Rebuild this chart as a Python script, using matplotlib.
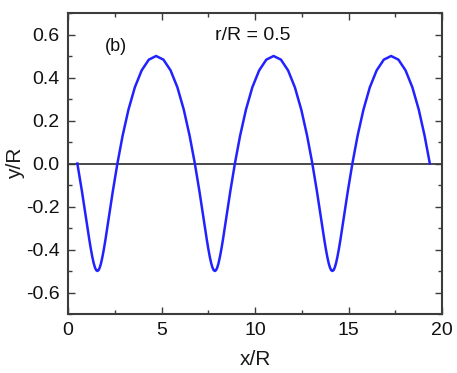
import matplotlib
matplotlib.use('Agg')
import matplotlib.pyplot as plt
from matplotlib.ticker import MultipleLocator

# curve points (trochoid, r/R = 0.5)
x_vals = [0.500, 0.745, 0.957, 1.139, 1.221, 1.297, 1.369, 1.438, 1.505, 1.571,
          1.636, 1.703, 1.772, 1.844, 1.921, 2.003,
          2.185, 2.397, 2.642, 2.920, 3.232, 3.573, 3.939, 4.321, 4.712, 5.104,
          5.486, 5.851, 6.193, 6.504, 6.783,
          7.028, 7.240, 7.422, 7.504, 7.580, 7.652, 7.721, 7.788, 7.854, 7.919,
          7.986, 8.055, 8.127, 8.204, 8.286, 8.468,
          8.680, 8.925, 9.203, 9.515, 9.856, 10.222, 10.604, 10.995, 11.387, 11.769,
          12.134, 12.476, 12.787, 13.066,
          13.311, 13.523, 13.705, 13.787, 13.863, 13.935, 14.004, 14.071, 14.137, 14.202,
          14.269, 14.338, 14.410, 14.487, 14.569, 14.751,
          14.963, 15.208, 15.486, 15.798, 16.139, 16.505, 16.887, 17.278, 17.670, 18.052,
          18.417, 18.759, 19.070, 19.349]
y_vals = [0.0, -0.129, -0.25, -0.354, -0.397, -0.433, -0.462, -0.483, -0.496, -0.5,
          -0.496, -0.483, -0.462, -0.433, -0.397, -0.354,
          -0.25, -0.129, 0.0, 0.129, 0.25, 0.354, 0.433, 0.483, 0.5, 0.483,
          0.433, 0.354, 0.25, 0.129, 0.0,
          -0.129, -0.25, -0.354, -0.397, -0.433, -0.462, -0.483, -0.496, -0.5, -0.496,
          -0.483, -0.462, -0.433, -0.397, -0.354, -0.25,
          -0.129, 0.0, 0.129, 0.25, 0.354, 0.433, 0.483, 0.5, 0.483, 0.433,
          0.354, 0.25, 0.129, 0.0,
          -0.129, -0.25, -0.354, -0.397, -0.433, -0.462, -0.483, -0.496, -0.5, -0.496,
          -0.483, -0.462, -0.433, -0.397, -0.354, -0.25,
          -0.129, 0.0, 0.129, 0.25, 0.354, 0.433, 0.483, 0.5, 0.483, 0.433,
          0.354, 0.25, 0.129, 0.0]

plt.rcParams['font.family'] = ['Liberation Sans', 'DejaVu Sans']
spine_color = '#3c3c3c'

fig = plt.figure(figsize=(4.57, 3.73), dpi=100)
ax = fig.add_axes([68 / 457, 1 - 314 / 373, 374 / 457, 301 / 373])

ax.axhline(0, color=spine_color, lw=1.3, zorder=1)
ax.plot(x_vals, y_vals, color='#2222ff', lw=1.8, zorder=2)

ax.set_xlim(0, 20)
ax.set_ylim(-0.7, 0.7)
ax.xaxis.set_major_locator(MultipleLocator(5))
ax.xaxis.set_minor_locator(MultipleLocator(2.5))
ax.yaxis.set_minor_locator(MultipleLocator(0.1))
ax.set_yticks([-0.6, -0.4, -0.2, 0.0, 0.2, 0.4, 0.6])
ax.set_yticklabels(['-0.6', '-0.4', '-0.2', '0.0', '0.2', '0.4', '0.6'])

ax.tick_params(which='both', direction='in', top=True, right=True,
               color=spine_color, labelsize=14, labelcolor='#111111')
ax.tick_params(which='major', length=5, width=1, pad=6)
ax.tick_params(which='minor', length=3, width=1)
for s in ax.spines.values():
    s.set_color(spine_color)
    s.set_linewidth(1.5)

ax.set_xlabel('x/R', fontsize=15, color='#1a1a1a', labelpad=8)
ax.set_ylabel('y/R', fontsize=15, color='#1a1a1a', labelpad=1)

ax.text(1.97, 0.545, '(b)', fontsize=13, color='#111111', va='center')
ax.text(7.86, 0.595, 'r/R = 0.5', fontsize=14, color='#111111', va='center')

fig.savefig('out.png', dpi=100)
